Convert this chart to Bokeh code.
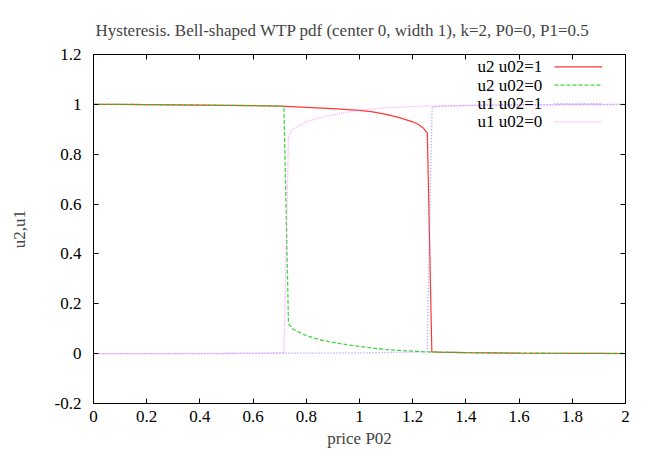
from bokeh.plotting import figure
from bokeh.models import LinearAxis, FixedTicker, Range1d, Label
from bokeh.embed import file_html
from bokeh.resources import INLINE

# ---- data ----
red_x = [0, 0.1, 0.2, 0.3, 0.4, 0.5, 0.6, 0.7, 0.8, 0.9, 1.0, 1.05, 1.1, 1.15, 1.2, 1.22, 1.24, 1.255,
         1.272, 1.3, 1.4, 1.5, 1.6, 1.7, 1.8, 1.9, 2.0]
red_y = [1.0, 1.0, 0.999, 0.998, 0.997, 0.996, 0.995, 0.993, 0.988, 0.983, 0.976, 0.97, 0.96, 0.947, 0.93,
         0.92, 0.905, 0.885, 0.007, 0.006, 0.004, 0.003, 0.002, 0.0015, 0.001, 0.0007, 0.0005]

green_x = [0, 0.1, 0.2, 0.3, 0.4, 0.5, 0.6, 0.7, 0.716, 0.733, 0.75, 0.8, 0.85, 0.9, 0.95, 1.0, 1.05,
           1.1, 1.15, 1.2, 1.255, 1.3, 1.4, 1.5, 1.6, 1.7, 1.8, 1.9, 2.0]
green_y = [1.0, 1.0, 0.999, 0.998, 0.997, 0.996, 0.995, 0.993, 0.992, 0.12, 0.098, 0.072, 0.056, 0.045,
           0.036, 0.029, 0.022, 0.017, 0.013, 0.010, 0.007, 0.006, 0.004, 0.003, 0.002, 0.0015, 0.001,
           0.0007, 0.0005]

blue_x = [0, 0.2, 0.4, 0.6, 0.8, 1.0, 1.2, 1.254, 1.273, 1.3, 1.4, 1.5, 1.6, 1.7, 1.8, 1.9, 2.0]
blue_y = [0.0, 0.0, 0.0, 0.001, 0.002, 0.003, 0.006, 0.008, 0.99, 0.992, 0.995, 0.997, 0.998, 0.998,
          0.999, 0.999, 1.0]

mag_x = [0, 0.2, 0.4, 0.6, 0.7, 0.716, 0.733, 0.75, 0.8, 0.85, 0.9, 0.95, 1.0, 1.05, 1.1, 1.15, 1.2,
         1.3, 1.4, 1.5, 1.6, 1.8, 2.0]
mag_y = [0.0, 0.0, 0.001, 0.002, 0.004, 0.005, 0.87, 0.9, 0.93, 0.947, 0.958, 0.968, 0.976, 0.982,
         0.986, 0.989, 0.991, 0.994, 0.996, 0.997, 0.998, 0.999, 1.0]

series_names = ["u2 u02=1", "u2 u02=0", "u1 u02=1", "u1 u02=0"]

x_ticks = [0, 0.2, 0.4, 0.6, 0.8, 1, 1.2, 1.4, 1.6, 1.8, 2]
x_tick_labels = ["0", "0.2", "0.4", "0.6", "0.8", "1", "1.2", "1.4", "1.6", "1.8", "2"]
y_ticks = [-0.2, 0, 0.2, 0.4, 0.6, 0.8, 1, 1.2]
y_tick_labels = ["-0.2", "0", "0.2", "0.4", "0.6", "0.8", "1", "1.2"]

FONT = "Liberation Serif"
FS = "17px"

p = figure(width=646, height=450, output_backend="svg", toolbar_location=None,
           x_range=Range1d(0, 2), y_range=Range1d(-0.2, 1.2),
           min_border_left=93, min_border_right=21, min_border_top=54, min_border_bottom=47,
           title="Hysteresis. Bell-shaped WTP pdf (center 0, width 1), k=2, P0=0, P1=0.5")
p.title.text_font = FONT
p.title.text_font_size = FS
p.title.text_font_style = "normal"
p.title.align = "left"
p.title.offset = 2
p.title.standoff = 30
p.xgrid.visible = False
p.ygrid.visible = False
p.outline_line_color = "black"
p.outline_line_width = 1

def style_axis(ax, ticks, labels, show_labels=True):
    ax.ticker = FixedTicker(ticks=ticks)
    ax.major_label_overrides = {t: (l if show_labels else "") for t, l in zip(ticks, labels)}
    ax.major_tick_in = 5
    ax.major_tick_out = 0
    ax.minor_tick_line_color = None
    ax.axis_line_color = "black"
    ax.major_tick_line_color = "black"
    ax.major_label_text_font = FONT
    ax.major_label_text_font_size = FS
    ax.major_label_text_color = "black"
    ax.axis_label_text_font = FONT
    ax.axis_label_text_font_size = FS
    ax.axis_label_text_font_style = "normal"

xa = p.xaxis[0]
style_axis(xa, x_ticks, x_tick_labels)
xa.axis_label = "price P02"
xa.major_label_standoff = 7
xa.axis_label_standoff = 4

ya = p.yaxis[0]
style_axis(ya, y_ticks, y_tick_labels)
ya.axis_label = "u2,u1"
ya.major_label_standoff = 12
ya.axis_label_standoff = 23

top = LinearAxis()
style_axis(top, x_ticks, x_tick_labels, show_labels=False)
top.major_label_standoff = 0
p.add_layout(top, "above")
right = LinearAxis()
style_axis(right, y_ticks, y_tick_labels, show_labels=False)
right.major_label_standoff = 0
p.add_layout(right, "right")

styles = [
    dict(color="#ff2020", line_width=1.2, line_dash="solid", line_alpha=0.9),
    dict(color="#20d020", line_width=1.3, line_dash="4 2", line_alpha=0.85),
    dict(color="#6a6aff", line_width=1.3, line_dash="1 2", line_alpha=0.7),
    dict(color="#ff66ff", line_width=1.3, line_dash="1 1", line_alpha=0.55),
]
data = [(red_x, red_y), (green_x, green_y), (blue_x, blue_y), (mag_x, mag_y)]

for (xs, ys), st in zip(data, styles):
    p.line(xs, ys, **st)

# manual gnuplot-style legend (text right-aligned, sample line to its right)
leg_text_x = 1.687
leg_line_x0, leg_line_x1 = 1.733, 1.912
leg_y = [1.150, 1.077, 1.003, 0.930]
for name, st, ly in zip(series_names, styles, leg_y):
    p.add_layout(Label(x=leg_text_x, y=ly, text=name, text_align="right", text_baseline="middle",
                       text_font=FONT, text_font_size=FS, text_color="black"))
    p.line([leg_line_x0, leg_line_x1], [ly, ly], **st)

open("out.html", "w").write(file_html(p, INLINE))
